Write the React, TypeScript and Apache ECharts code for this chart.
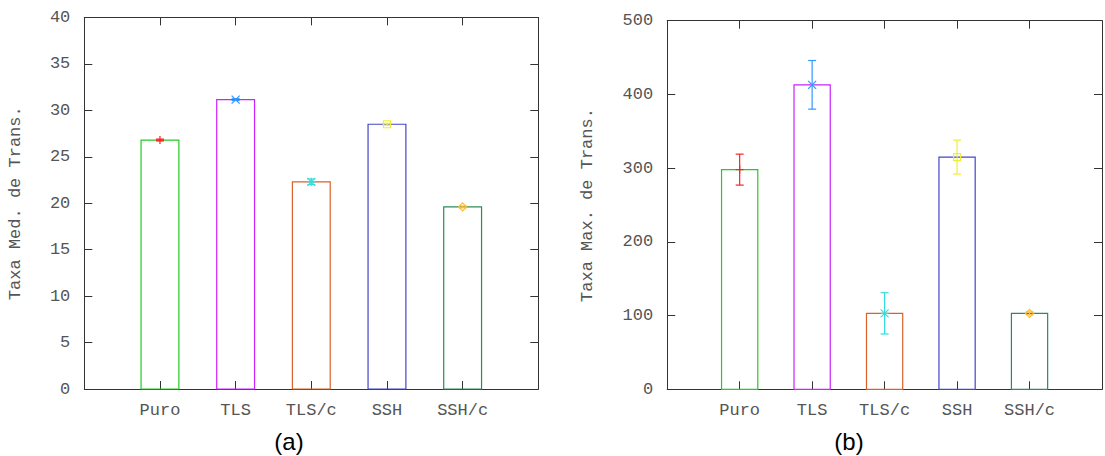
import React, { useEffect, useRef } from 'react';
import * as echarts from 'echarts';

const categories = ['Puro', 'TLS', 'TLS/c', 'SSH', 'SSH/c'];
const avgRate = [26.8, 31.15, 22.3, 28.5, 19.6];
const avgErr = [0.1, 0.1, 0.3, 0.1, 0.1];
const maxRate = [298, 413, 103, 315, 103];
const maxErr = [21, 33, 28, 23, 2];
const barColors = ['#22cc22', '#cc22ff', '#d9622b', '#4444cc', '#2e8b57'];
const markColors = ['#ff2020', '#3399ff', '#33dddd', '#eeee33', '#ffbb33'];
const markShapes = ['plus', 'cross', 'star', 'square', 'diamond'];

const MONO = 'Liberation Mono';
const AXIS_COLOR = '#333';
const TEXT_COLOR = '#555';

function renderBars(params: any, api: any) {
  const i = params.dataIndex;
  const x = api.value(0);
  const y = api.value(1);
  const e = api.value(2);
  const bl = api.coord([x - 0.25, 0]);
  const tr = api.coord([x + 0.25, y]);
  const c = api.coord([x, y]);
  const lo = api.coord([x, y - e]);
  const hi = api.coord([x, y + e]);
  const mc = markColors[i];
  const ls = { stroke: mc, lineWidth: 1.2 };
  const children: any[] = [];
  children.push({
    type: 'rect',
    shape: { x: bl[0], y: tr[1], width: tr[0] - bl[0], height: bl[1] - tr[1] },
    style: { fill: 'none', stroke: barColors[i], lineWidth: 1.2 },
  });
  children.push({ type: 'line', shape: { x1: c[0], y1: lo[1], x2: c[0], y2: hi[1] }, style: ls });
  children.push({ type: 'line', shape: { x1: c[0] - 4, y1: lo[1], x2: c[0] + 4, y2: lo[1] }, style: ls });
  children.push({ type: 'line', shape: { x1: c[0] - 4, y1: hi[1], x2: c[0] + 4, y2: hi[1] }, style: ls });
  const s = 4;
  const shape = markShapes[i];
  if (shape === 'plus' || shape === 'star') {
    children.push({ type: 'line', shape: { x1: c[0] - s, y1: c[1], x2: c[0] + s, y2: c[1] }, style: ls });
    children.push({ type: 'line', shape: { x1: c[0], y1: c[1] - s, x2: c[0], y2: c[1] + s }, style: ls });
  }
  if (shape === 'cross' || shape === 'star') {
    children.push({ type: 'line', shape: { x1: c[0] - s, y1: c[1] - s, x2: c[0] + s, y2: c[1] + s }, style: ls });
    children.push({ type: 'line', shape: { x1: c[0] - s, y1: c[1] + s, x2: c[0] + s, y2: c[1] - s }, style: ls });
  }
  if (shape === 'square') {
    children.push({
      type: 'rect',
      shape: { x: c[0] - 3.5, y: c[1] - 3.5, width: 7, height: 7 },
      style: { fill: 'none', stroke: mc, lineWidth: 1.2 },
    });
  }
  if (shape === 'diamond') {
    children.push({
      type: 'polygon',
      shape: { points: [[c[0], c[1] - s], [c[0] + s, c[1]], [c[0], c[1] + s], [c[0] - s, c[1]]] },
      style: { fill: 'none', stroke: mc, lineWidth: 1.2 },
    });
  }
  return { type: 'group', children };
}

function xAxes(gridIndex: number) {
  const common = {
    type: 'value' as const,
    gridIndex,
    min: 0,
    max: 6,
    interval: 1,
    splitLine: { show: false },
    axisLine: { show: true, onZero: false, lineStyle: { color: AXIS_COLOR, width: 1 } },
    axisTick: { show: true, inside: true, length: 8, lineStyle: { color: AXIS_COLOR } },
  };
  return [
    {
      ...common,
      position: 'bottom',
      axisLabel: {
        show: true,
        margin: 13,
        fontFamily: MONO,
        fontSize: 17,
        color: TEXT_COLOR,
        formatter: (v: number) => categories[v - 1] ?? '',
      },
    },
    { ...common, position: 'top', axisLabel: { show: false } },
  ];
}

function yAxes(gridIndex: number, max: number, interval: number, name: string, nameGap: number) {
  const common = {
    type: 'value' as const,
    gridIndex,
    min: 0,
    max,
    interval,
    splitLine: { show: false },
    axisLine: { show: true, onZero: false, lineStyle: { color: AXIS_COLOR, width: 1 } },
    axisTick: { show: true, inside: true, length: 8, lineStyle: { color: AXIS_COLOR } },
  };
  return [
    {
      ...common,
      position: 'left',
      name,
      nameLocation: 'middle',
      nameRotate: 90,
      nameGap,
      nameTextStyle: { fontFamily: MONO, fontSize: 17, color: TEXT_COLOR },
      axisLabel: { show: true, margin: 14, fontFamily: MONO, fontSize: 17, color: TEXT_COLOR },
    },
    { ...common, position: 'right', axisLabel: { show: false } },
  ];
}

export default function App() {
  const ref = useRef<HTMLDivElement>(null);
  useEffect(() => {
    if (!ref.current) return;
    const chart = echarts.init(ref.current, undefined, { renderer: 'svg' });
    const option: any = {
      animation: false,
      backgroundColor: '#ffffff',
      grid: [
        { left: 84.3, top: 17.4, width: 454, height: 371.6, containLabel: false },
        { left: 667.2, top: 20.7, width: 444.6, height: 368.6, containLabel: false },
      ],
      xAxis: [...xAxes(0), ...xAxes(1)],
      yAxis: [
        ...yAxes(0, 40, 5, 'Taxa Med. de Trans.', 60),
        ...yAxes(1, 500, 100, 'Taxa Max. de Trans.', 71),
      ],
      series: [
        {
          type: 'custom',
          xAxisIndex: 0,
          yAxisIndex: 0,
          renderItem: renderBars,
          encode: { x: 0, y: 1 },
          data: categories.map((_, i) => [i + 1, avgRate[i], avgErr[i]]),
        },
        {
          type: 'custom',
          xAxisIndex: 2,
          yAxisIndex: 2,
          renderItem: renderBars,
          encode: { x: 0, y: 1 },
          data: categories.map((_, i) => [i + 1, maxRate[i], maxErr[i]]),
        },
      ],
      graphic: [
        {
          type: 'text',
          x: 289,
          y: 441,
          style: { text: '(a)', font: '24px "Liberation Sans"', align: 'center', verticalAlign: 'middle', fill: '#000' },
        },
        {
          type: 'text',
          x: 849,
          y: 441,
          style: { text: '(b)', font: '24px "Liberation Sans"', align: 'center', verticalAlign: 'middle', fill: '#000' },
        },
      ],
    };
    chart.setOption(option);
    return () => chart.dispose();
  }, []);
  return (
    <div
      ref={ref}
      style={{ position: 'absolute', left: 0, top: 0, width: 1105, height: 456, background: '#fff' }}
    />
  );
}
